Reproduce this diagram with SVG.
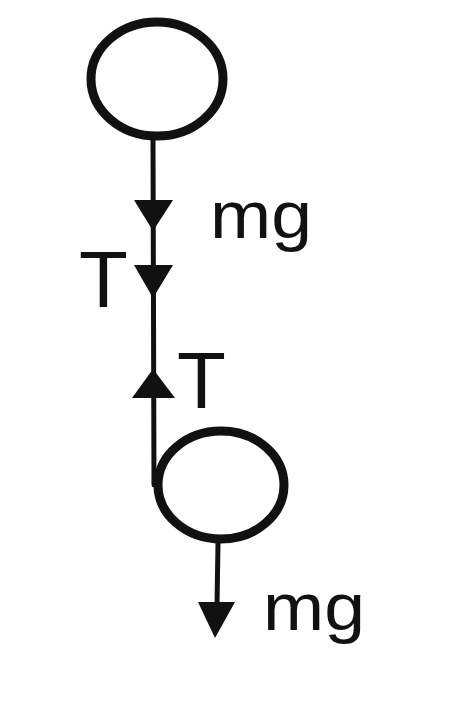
<svg xmlns="http://www.w3.org/2000/svg" width="474" height="704" viewBox="0 0 474 704">
<style>
.ball{fill:#fff;stroke:#111;stroke-width:9}
.rope{stroke:#111;stroke-width:5;fill:none;stroke-linecap:round}
.head{fill:#111}
.lbl{font-family:"Liberation Sans",Arial,sans-serif;fill:#111}
</style>
<rect width="474" height="704" fill="#fff"/>
<g id="connectors">
<line class="rope" x1="153" y1="140" x2="154" y2="485"/>
<line class="rope" x1="218" y1="543" x2="217" y2="605"/>
<polygon class="head" points="134,200 173,200 153,231"/>
<polygon class="head" points="134,265 173,265 153,298"/>
<polygon class="head" points="132,398 175,398 153,369"/>
<polygon class="head" points="198,602 235,602 215,638"/>
</g>
<g id="ball-top">
<ellipse class="ball" cx="157" cy="79" rx="66" ry="57"/>
</g>
<g id="ball-bottom">
<ellipse class="ball" cx="221" cy="485" rx="63" ry="54"/>
</g>
<g id="label-mg-top"><text class="lbl" x="210" y="238" font-size="66" textLength="102" lengthAdjust="spacingAndGlyphs">mg</text></g>
<g id="label-T-left"><text class="lbl" x="79" y="307" font-size="80">T</text></g>
<g id="label-T-right"><text class="lbl" x="177" y="408" font-size="80">T</text></g>
<g id="label-mg-bottom"><text class="lbl" x="263" y="630" font-size="66" textLength="102" lengthAdjust="spacingAndGlyphs">mg</text></g>
</svg>
